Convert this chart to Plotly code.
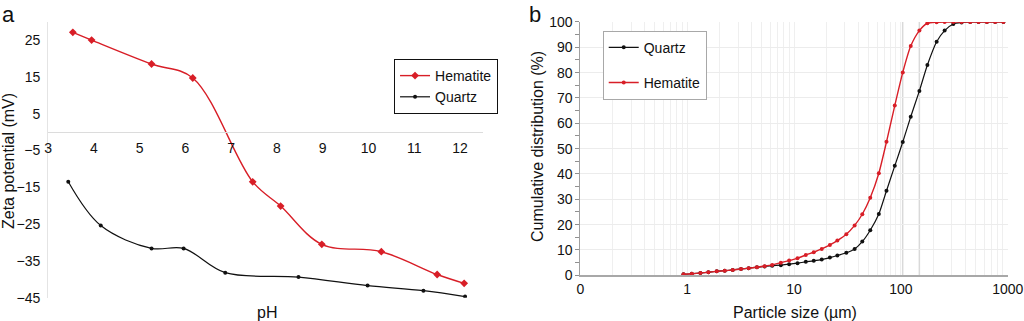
import plotly.graph_objects as go

# ---------------- Panel a: zeta potential vs pH ----------------
ph_hem = [3.54, 3.95, 5.26, 6.16, 7.47, 8.08, 8.98, 10.28, 11.50, 12.09]
zeta_hem = [27.1, 25.0, 18.5, 14.7, -13.5, -20.1, -30.5, -32.5, -38.7, -41.1]
ph_qtz = [3.44, 4.15, 5.26, 5.96, 6.87, 8.47, 9.98, 11.20, 12.11]
zeta_qtz = [-13.5, -25.4, -31.6, -31.6, -38.2, -39.4, -41.7, -43.1, -44.7]
ph_ticks = [3, 4, 5, 6, 7, 8, 9, 10, 11, 12]
zeta_ticks = [-45, -35, -25, -15, -5, 5, 15, 25]

# ---------------- Panel b: cumulative size distribution ----------------
size_um = [0.924, 1.106, 1.331, 1.580, 1.893, 2.247, 2.669, 3.190, 3.764, 4.498,
           5.306, 6.249, 7.530, 9.00, 10.78, 12.89, 15.30, 18.17, 21.67, 25.45,
           30.88, 36.92, 43.55, 51.70, 62.21, 73.39, 87.72, 104.2, 123.7, 149.1,
           177.1, 216.2, 256.8, 309.6, 370.0, 446.0, 533.0, 638.3, 762.9, 912.1]
cum_hem = [0.4, 0.6, 0.9, 1.2, 1.6, 1.8, 2.1, 2.5, 2.8, 3.2,
           3.6, 4.1, 5.0, 5.8, 6.7, 8.0, 9.1, 10.4, 12.0, 13.7,
           16.2, 19.7, 24.1, 30.6, 40.3, 52.7, 67.0, 80.1, 90.5, 96.6,
           99.5, 99.9, 100, 100, 100, 100, 100, 100, 100, 100]
cum_qtz = [0.4, 0.6, 0.9, 1.2, 1.6, 1.8, 2.1, 2.5, 2.8, 3.2,
           3.5, 3.8, 4.0, 4.4, 4.8, 5.3, 5.7, 6.2, 7.0, 7.8,
           8.9, 10.4, 13.3, 17.8, 24.2, 33.4, 43.2, 52.6, 62.6, 72.8,
           83.0, 92.2, 96.6, 99.2, 99.8, 100, 100, 100, 100, 100]
size_major_vals = [0.1, 1, 10, 100, 1000]
size_major_text = ["0", "1", "10", "100", "1000"]
sieve_lines_um = [104, 149]
cum_ticks = [0, 10, 20, 30, 40, 50, 60, 70, 80, 90, 100]

RED = "#d81e27"
BLACK = "#111111"
FONT = "Liberation Sans, Arial, Helvetica, sans-serif"

fig = go.Figure()

# panel a traces
fig.add_trace(go.Scatter(x=ph_hem, y=zeta_hem, name="Hematite", mode="lines+markers",
                         line=dict(color=RED, width=1.4, shape="spline", smoothing=1.0),
                         marker=dict(symbol="diamond", size=6, color=RED),
                         xaxis="x", yaxis="y", legend="legend"))
fig.add_trace(go.Scatter(x=ph_qtz, y=zeta_qtz, name="Quartz", mode="lines+markers",
                         line=dict(color=BLACK, width=1.2, shape="spline", smoothing=1.0),
                         marker=dict(symbol="circle", size=4, color=BLACK),
                         xaxis="x", yaxis="y", legend="legend"))

# panel b traces
fig.add_trace(go.Scatter(x=size_um, y=cum_qtz, name="Quartz", mode="lines+markers",
                         line=dict(color=BLACK, width=1.2, shape="spline", smoothing=0.6),
                         marker=dict(symbol="circle", size=4, color=BLACK),
                         xaxis="x2", yaxis="y2", legend="legend2", legendgroup="q"))
fig.add_trace(go.Scatter(x=size_um, y=cum_hem, name="Hematite", mode="lines+markers",
                         line=dict(color=RED, width=1.4, shape="spline", smoothing=0.6),
                         marker=dict(symbol="circle", size=4, color=RED),
                         xaxis="x2", yaxis="y2", legend="legend2", legendgroup="h"))

# tick positions for log grid (every integer multiple within each decade)
grid_vals = []
grid_text = []
for dec in [0.1, 1, 10, 100]:
    for m in range(1, 10):
        v = dec * m
        grid_vals.append(v)
        grid_text.append(size_major_text[size_major_vals.index(dec)] if m == 1 else "")
grid_vals.append(size_major_vals[-1])
grid_text.append(size_major_text[-1])

shapes = []
for v in sieve_lines_um:
    shapes.append(dict(type="line", xref="x2", yref="y2", x0=v, x1=v, y0=0, y1=100,
                       line=dict(color="#d9d9d9", width=1.5), layer="below"))

ya_dom = [0.0726, 0.9324]
pos_zero = ya_dom[0] + (0 - (-45)) / (30 - (-45)) * (ya_dom[1] - ya_dom[0])


def ann(text, xpx, ypx, size=16, angle=0, xanchor="center", yanchor="middle"):
    return dict(text=text, x=xpx / 1024, y=1 - ypx / 321, xref="paper", yref="paper",
                xanchor=xanchor, yanchor=yanchor, textangle=angle, showarrow=False,
                font=dict(size=size))


fig.update_layout(
    width=1024, height=321,
    margin=dict(l=0, r=0, t=0, b=0, pad=0, autoexpand=False),
    paper_bgcolor="white", plot_bgcolor="white",
    font=dict(family=FONT, size=14, color="#111"),
    xaxis=dict(domain=[0.047, 0.4716], range=[3, 12.5], anchor="free", position=pos_zero,
               tickvals=ph_ticks, showgrid=False, zeroline=False, automargin=False,
               showline=True, linecolor="#dcdcdc", linewidth=1,
               ticks="outside", ticklen=3, tickcolor="rgba(0,0,0,0)",
               tickfont=dict(size=14)),
    yaxis=dict(domain=ya_dom, range=[-45, 30], anchor="x", tickvals=zeta_ticks,
               showgrid=False, zeroline=False, showline=True, linecolor="#e4e4e4",
               automargin=False,
               ticks="outside", ticklen=4, tickcolor="rgba(0,0,0,0)",
               tickfont=dict(size=14)),
    xaxis2=dict(domain=[0.5667, 0.9841], type="log", range=[-1, 3], anchor="y2",
                tickvals=grid_vals, ticktext=grid_text, automargin=False,
                showgrid=True, gridcolor="#efefef", gridwidth=1, zeroline=False,
                showline=True, linecolor="#a8a8a8", linewidth=2,
                ticks="", tickfont=dict(size=14)),
    yaxis2=dict(domain=[0.1424, 0.9315], range=[0, 100], anchor="x2", tickvals=cum_ticks,
                showgrid=True, gridcolor="#ececec", zeroline=False, automargin=False,
                showline=True, linecolor="#a0a0a0", linewidth=1,
                ticks="outside", ticklen=4, tickcolor="#909090",
                minor=dict(dtick=5, ticks="outside", ticklen=4, tickcolor="#909090", showgrid=False),
                tickfont=dict(size=14)),
    legend=dict(x=0.3848, y=0.8162, xanchor="left", yanchor="top",
                bgcolor="white", bordercolor="#111", borderwidth=1,
                font=dict(size=14), itemwidth=30, tracegroupgap=0,
                traceorder="normal"),
    legend2=dict(x=0.5886, y=0.9044, xanchor="left", yanchor="top",
                 bgcolor="white", bordercolor="#a8a8a8", borderwidth=1,
                 font=dict(size=14), itemwidth=30, tracegroupgap=14,
                 traceorder="grouped"),
    shapes=shapes,
    annotations=[
        ann("a", 0, 0, size=22, xanchor="left", yanchor="top"),
        ann("b", 527, 0, size=22, xanchor="left", yanchor="top"),
        ann("Zeta potential (mV)", 9, 161, angle=-90),
        ann("pH", 267, 312),
        ann("Cumulative distribution (%)", 538, 147, angle=-90),
        ann("Particle size (µm)", 795, 312),
    ],
)

fig.write_html("out.html", config={"displayModeBar": False},
               post_script="document.body.style.margin='0';document.body.style.overflow='hidden';")
